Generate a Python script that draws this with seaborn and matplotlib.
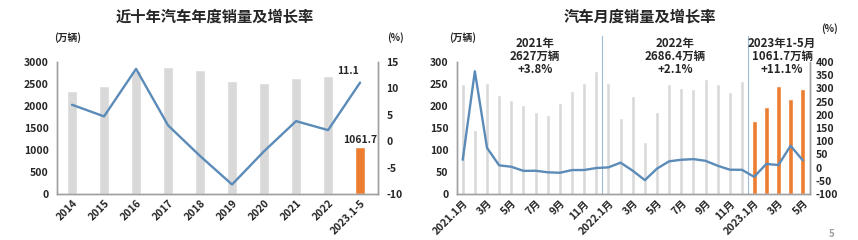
import numpy as np
import pandas as pd
import matplotlib
matplotlib.use("Agg")
import matplotlib.pyplot as plt
import seaborn as sns

sns.set_theme(style="white")
plt.rcParams['font.family'] = ['Noto Sans CJK SC', 'DejaVu Sans']
plt.rcParams['font.weight'] = 'bold'
plt.rcParams['axes.unicode_minus'] = False

# ---------------- data ----------------
years = ["2014", "2015", "2016", "2017", "2018", "2019", "2020", "2021", "2022", "2023.1-5"]
year_sales = [2349.2, 2459.8, 2802.8, 2887.9, 2808.1, 2576.9, 2531.1, 2627.5, 2686.4, 1061.7]
year_growth = [6.9, 4.7, 13.7, 3.0, -2.8, -8.2, -1.9, 3.8, 2.1, 11.1]

month_ids = [f"2021-{m:02d}" for m in range(1, 13)] + [f"2022-{m:02d}" for m in range(1, 13)] + [f"2023-{m:02d}" for m in range(1, 6)]
month_sales = [250.3, 145.5, 252.6, 225.2, 212.8, 201.5, 186.4, 179.9, 207.1, 233.2, 252.2, 278.6,
               253.1, 173.7, 223.4, 118.1, 186.2, 250.2, 242.0, 238.3, 261.0, 250.5, 232.3, 256.0,
               164.9, 197.6, 245.1, 215.9, 238.2]
month_growth = [29.5, 364.8, 74.9, 8.6, 3.2, -12.4, -11.9, -17.8, -19.6, -9.4, -9.1, -1.6,
                0.9, 18.7, -11.7, -47.6, -3.8, 23.8, 29.7, 32.1, 25.7, 6.9, -7.9, -8.4,
                -35.0, 13.8, 9.7, 82.7, 27.9]
month_ticklabels = ["2021.1月", "3月", "5月", "7月", "9月", "11月",
                    "2022.1月", "3月", "5月", "7月", "9月", "11月",
                    "2023.1月", "3月", "5月"]
period_notes = ["2021年\n2627万辆\n+3.8%", "2022年\n2686.4万辆\n+2.1%", "2023年1-5月\n1061.7万辆\n+11.1%"]

GRAY = "#d9d9d9"
ORANGE = "#ed7d31"
BLUE = "#5b8bb8"
SPINE = "#a0a0a0"
TXT = "#262626"

fig = plt.figure(figsize=(8.58, 2.40), dpi=100)

# ---------------- left chart ----------------
ax1 = fig.add_axes([57/858, 1-194/240, 321/858, 132/240])
df_y = pd.DataFrame({"year": years, "sales": year_sales, "growth": year_growth})
df_y["kind"] = ["past"] * 9 + ["now"]
sns.barplot(data=df_y, x="year", y="sales", hue="kind", palette={"past": GRAY, "now": ORANGE},
            dodge=False, width=0.33, legend=False, ax=ax1, saturation=1)
ax1.set_ylim(0, 3000)
ax1.set_xlim(-0.47, 9.56)
ax1.set_yticks(range(0, 3001, 500))
ax1.set_xlabel("")
ax1.set_ylabel("")
ax1b = ax1.twinx()
sns.lineplot(x=np.arange(len(years)), y=year_growth, ax=ax1b, color=BLUE, linewidth=1.7, sort=False)
ax1b.set_ylim(-10, 15)
ax1b.set_yticks(range(-10, 16, 5))
ax1.set_xticks(range(len(years)))
ax1.set_xticklabels(years, rotation=45, ha="right", rotation_mode="anchor")
for a in (ax1, ax1b):
    a.tick_params(axis="both", length=0, labelsize=7.5, colors=TXT)
    a.spines["top"].set_visible(False)
    for s in ["left", "bottom", "right"]:
        a.spines[s].set_color(SPINE)
        a.spines[s].set_linewidth(1.0)
ax1.tick_params(axis="y", pad=6)
ax1b.tick_params(axis="y", pad=6)
ax1.tick_params(axis="x", pad=3)
ax1b.text(8.95, 11.1 + 1.2, "11.1", ha="right", va="bottom", fontsize=7.5, weight="bold", color=TXT)
ax1.text(9, year_sales[-1] + 60, "1061.7", ha="center", va="bottom", fontsize=7.5, weight="bold", color=TXT)
fig.text(215/858, 1-17/240, "近十年汽车年度销量及增长率", ha="center", va="center", fontsize=11, weight="bold", color=TXT)
fig.text(68/858, 1-38/240, "(万辆)", ha="center", va="center", fontsize=7, weight="bold", color=TXT)
fig.text(395/858, 1-38/240, "(%)", ha="center", va="center", fontsize=7, weight="bold", color=TXT)

# ---------------- right chart ----------------
ax2 = fig.add_axes([457/858, 1-194/240, 353/858, 132/240])
df_m = pd.DataFrame({"month": month_ids, "sales": month_sales, "growth": month_growth})
df_m["kind"] = ["past"] * 24 + ["now"] * 5
sns.barplot(data=df_m[df_m.kind == "past"], x="month", y="sales", order=month_ids, color=GRAY,
            width=0.34, ax=ax2, saturation=1)
sns.barplot(data=df_m[df_m.kind == "now"], x="month", y="sales", order=month_ids, color=ORANGE,
            width=0.42, ax=ax2, saturation=1)
ax2.set_ylim(0, 300)
ax2.set_xlim(-0.47, 28.6)
ax2.set_yticks(range(0, 301, 50))
ax2.set_xlabel("")
ax2.set_ylabel("")
ax2b = ax2.twinx()
sns.lineplot(x=np.arange(len(month_ids)), y=month_growth, ax=ax2b, color=BLUE, linewidth=1.7, sort=False)
ax2b.set_ylim(-100, 400)
ax2b.set_yticks(range(-100, 401, 50))
ax2.set_xticks(range(0, len(month_ids), 2))
ax2.set_xticklabels(month_ticklabels, rotation=45, ha="right", rotation_mode="anchor")
for a in (ax2, ax2b):
    a.tick_params(axis="both", length=0, labelsize=7.5, colors=TXT)
    a.spines["top"].set_visible(False)
    for s in ["left", "bottom", "right"]:
        a.spines[s].set_color(SPINE)
        a.spines[s].set_linewidth(1.0)
ax2.tick_params(axis="y", pad=6)
ax2b.tick_params(axis="y", pad=4)
ax2.tick_params(axis="x", pad=3)
# period separators
for xs in (11.5, 23.5):
    ax2.plot([xs, xs], [0, 1.2], transform=ax2.get_xaxis_transform(), color="#9dbbd6",
             linewidth=0.8, clip_on=False)
note_x = [5.95, 17.5, 26.3]
for nx, note in zip(note_x, period_notes):
    ax2.text(nx, 1.045, note, transform=ax2.get_xaxis_transform(), ha="center", va="center",
             fontsize=8.3, weight="bold", color=TXT, linespacing=1.0)
fig.text(640/858, 1-17/240, "汽车月度销量及增长率", ha="center", va="center", fontsize=11, weight="bold", color=TXT)
fig.text(463/858, 1-38/240, "(万辆)", ha="center", va="center", fontsize=7, weight="bold", color=TXT)
fig.text(829/858, 1-29/240, "(%)", ha="center", va="center", fontsize=7, weight="bold", color=TXT)
fig.text(832/858, 1-234/240, "5", ha="center", va="center", fontsize=7, color="#a0a0a0")

fig.savefig("out.png", dpi=100)
